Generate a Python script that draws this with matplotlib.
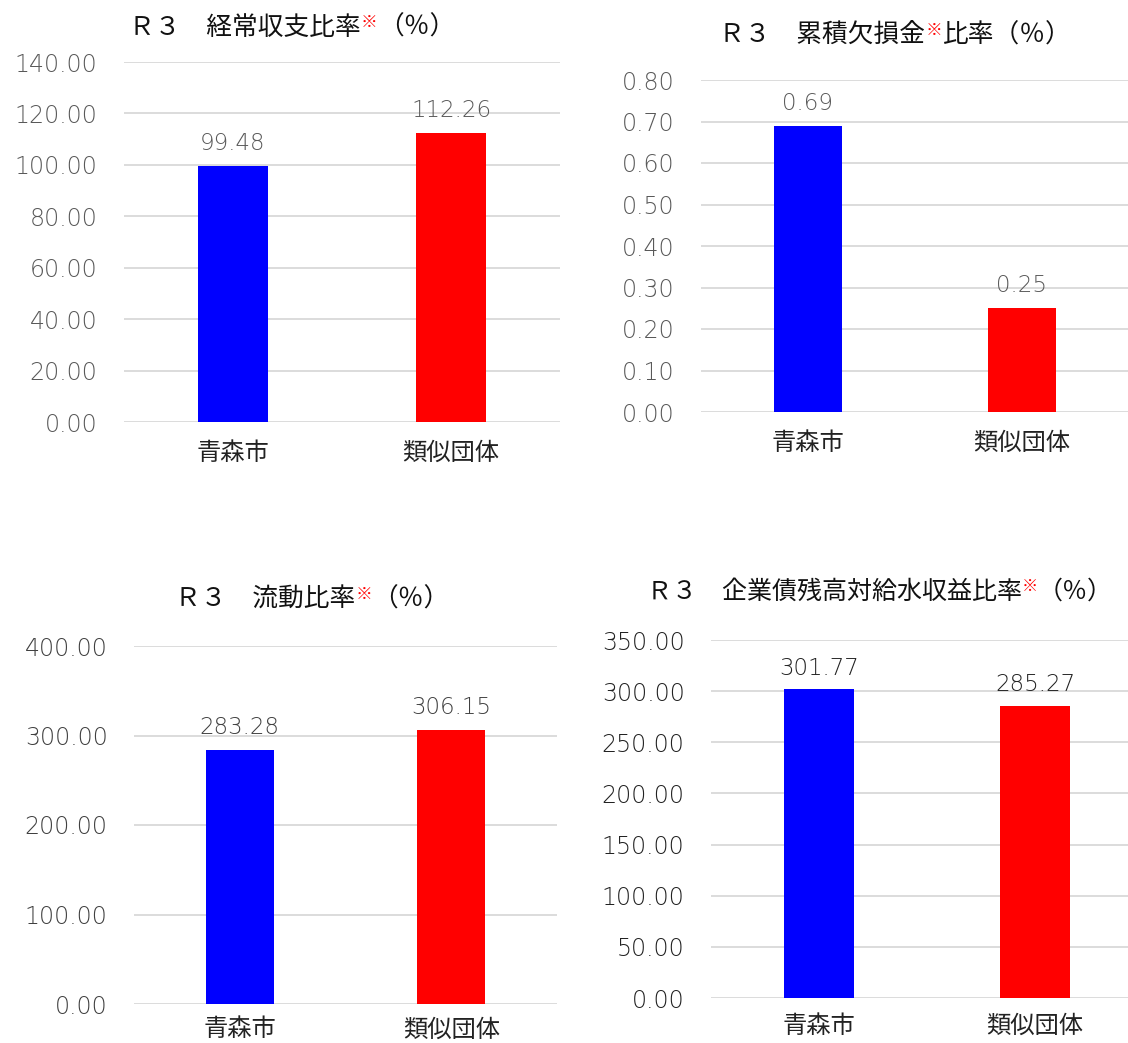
import matplotlib
matplotlib.use("Agg")
import matplotlib.pyplot as plt
import numpy as np

plt.rcParams['font.family'] = ['Noto Sans CJK JP', 'DejaVu Sans']

categories = ["青森市", "類似団体"]

keijo_values = [99.48, 112.26]
ruiseki_values = [0.69, 0.25]
ryudo_values = [283.28, 306.15]
kigyosai_values = [301.77, 285.27]

keijo_ticks = [0, 20, 40, 60, 80, 100, 120, 140]
ruiseki_ticks = [0.0, 0.1, 0.2, 0.3, 0.4, 0.5, 0.6, 0.7, 0.8]
ryudo_ticks = [0, 100, 200, 300, 400]
kigyosai_ticks = [0, 50, 100, 150, 200, 250, 300, 350]

# title pieces: before ※, after ※
keijo_title = ("Ｒ３　経常収支比率", "（％）")
ruiseki_title = ("Ｒ３　累積欠損金", "比率（％）")
ryudo_title = ("Ｒ３　流動比率", "（％）")
kigyosai_title = ("Ｒ３　企業債残高対給水収益比率", "（％）")

bar_colors = ["#0000FF", "#FF0000"]
num_font = "DejaVu Sans"

W, H = 1128, 1043
fig = plt.figure(figsize=(W / 100, H / 100), dpi=100)


def px_axes(left, top, right, bottom):
    return fig.add_axes([left / W, 1 - bottom / H, (right - left) / W, (bottom - top) / H])


def draw_panel(ax, values, ticks, txtcolor, offset, xpad=13):
    x = np.arange(len(categories))
    ax.bar(x, values, width=0.32, color=bar_colors, zorder=3)
    ax.set_xlim(-0.5, 1.5)
    ax.set_ylim(ticks[0], ticks[-1])
    ax.set_yticks(ticks)
    ax.set_yticklabels(["%.2f" % t for t in ticks], fontsize=17, color=txtcolor,
                       family=num_font, fontweight="light")
    ax.set_xticks(x)
    ax.set_xticklabels(categories, fontsize=17.5, color="#222222")
    ax.tick_params(axis="both", length=0)
    ax.tick_params(axis="y", pad=19)
    ax.tick_params(axis="x", pad=xpad)
    ax.grid(axis="y", color="#D9D9D9", linewidth=1.3, zorder=0)
    for s in ax.spines.values():
        s.set_visible(False)
    for xi, v in zip(x, values):
        ax.annotate("%.2f" % v, (xi, v), xytext=(0, offset), textcoords="offset points",
                    ha="center", va="bottom", fontsize=16.5, color=txtcolor,
                    family=num_font, fontweight="light")


def draw_title(cx, cy, parts, size=18.5):
    renderer = fig.canvas.get_renderer()
    pieces = [(parts[0], "#111111", size, 0), ("※", "#FF0000", size * 0.65, 6), (parts[1], "#111111", size, 0)]
    widths = []
    for s, c, fs, dy in pieces:
        t = fig.text(0, 0, s, fontsize=fs)
        widths.append(t.get_window_extent(renderer).width)
        t.remove()
    x = cx - sum(widths) / 2
    for (s, c, fs, dy), w in zip(pieces, widths):
        fig.text(x / W, 1 - (cy - dy) / H, s, fontsize=fs, color=c, va="center", ha="left")
        x += w


ax1 = px_axes(124, 62, 560, 422)
draw_panel(ax1, keijo_values, keijo_ticks, "#595959", 8)
ax2 = px_axes(701, 80, 1129, 412)
draw_panel(ax2, ruiseki_values, ruiseki_ticks, "#595959", 8)
ax3 = px_axes(134, 646, 557, 1004)
draw_panel(ax3, ryudo_values, ryudo_ticks, "#404040", 8, xpad=9)
ax4 = px_axes(711, 640, 1143, 998)
draw_panel(ax4, kigyosai_values, kigyosai_ticks, "#222222", 7, xpad=11)

draw_title(292, 28, keijo_title)
draw_title(895, 36, ruiseki_title)
draw_title(312, 600, ryudo_title)
draw_title(880, 592, kigyosai_title, size=18)

fig.savefig("out.png", dpi=100)
